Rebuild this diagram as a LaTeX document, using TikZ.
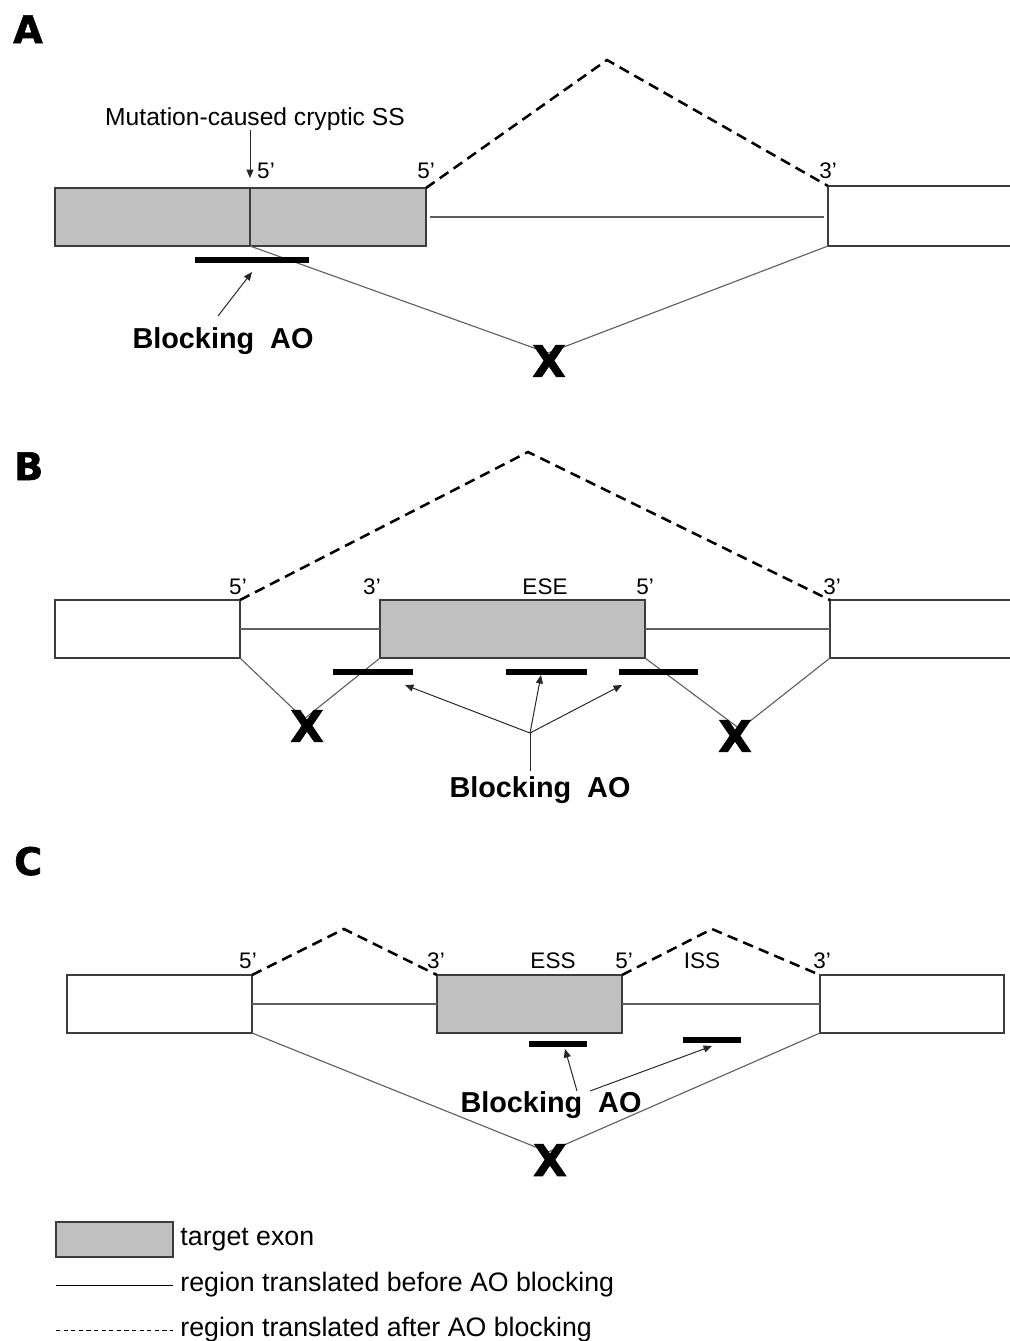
\documentclass[tikz,border=0pt]{standalone}
\usepackage{fontspec}
\setmainfont{Liberation Sans}
\newfontfamily\panelfont{DejaVu Sans}[BoldFeatures={FakeBold=1.6}]
\usepackage{tikz}
\usetikzlibrary{arrows.meta, positioning}
\definecolor{exongray}{RGB}{192,192,192}
\definecolor{edgegray}{RGB}{60,60,60}
\definecolor{intgray}{RGB}{95,95,95}
\tikzset{%
	boxsize/.style 2 args={
		minimum width=#1*0.025cm,
		minimum height=#2*0.025cm
	},
	exon/.style={
		draw=edgegray,
		line width=1pt,
		fill=exongray,
		inner sep=0pt,
		outer sep=0pt,
		anchor=north west
	},
	flank/.style={exon, fill=white},
	edge/.style={draw=edgegray, line width=1pt},
	intron/.style={draw=intgray, line width=0.8pt},
	after/.style={draw=black, line width=1.8pt, dash pattern=on 7.5pt off 4.5pt},
	aobar/.style={draw=black, line width=3.6pt},
	pointer/.style={draw=black!85, line width=0.7pt, -{Triangle[length=6pt,width=5pt]}},
	site/.style={font=\fontsize{16}{18}\selectfont, anchor=base, inner sep=0pt},
	note/.style={font=\fontsize{17.5}{20}\selectfont, anchor=base, inner sep=0pt},
	block/.style={font=\bfseries\fontsize{20.5}{24}\selectfont, anchor=base, inner sep=0pt},
	cross/.style={font=\panelfont\bfseries\fontsize{31}{36}\selectfont, inner sep=0pt},
	panel/.style={font=\panelfont\bfseries\fontsize{27}{30}\selectfont, anchor=base west, inner sep=0pt},
	legtext/.style={font=\fontsize{19}{22}\selectfont, anchor=west, inner sep=0pt},
}
\begin{document}
\begin{tikzpicture}[x=0.025cm, y=-0.025cm]
	\useasboundingbox (0,0) rectangle (1009,1341);
	
	% Panel A: mutation-caused cryptic splice site
	\node[panel] (labA) at (13,43) {A};
	\node[exon, boxsize={371}{58}] (exA) at (55,188) {};
	\node[flank, boxsize={200}{60}] (flA) at (828,186) {};
	\coordinate (cryA) at (250,188);
	\draw[edge] (cryA) -- (cryA |- exA.south);
	\draw[intron, shorten <=3pt, shorten >=3pt] (exA.east) -- (exA.east -| flA.west);
	\coordinate (pkA) at (607,60);
	\draw[after] (exA.north east) -- (pkA) -- (flA.north west);
	\coordinate (jxA) at (548,353);
	\draw[intron] (cryA |- exA.south) -- (jxA) -- (flA.south west);
	\node[cross] (xA) at (549,361) {X};
	\draw[aobar] (195,260) -- (309,260);
	
	% Labels for panel A
	\node[note] (mutA) at (255,125) {Mutation-caused cryptic SS};
	\coordinate (tipA) at (250,178);
	\draw[pointer] (cryA |- mutA.south) -- (tipA);
	\node[site] (s5A) at (266,178) {5'};
	\node[site] (t5A) at (426,178) {5'};
	\node[site] (t3A) at (828,178) {3'};
	\node[block] (blkA) at (223,348) {Blocking\ \ AO};
	\coordinate (pA1) at (218,316);
	\coordinate (pA2) at (252,272);
	\draw[pointer] (pA1) -- (pA2);
	
	
	
	% Panel B: exon skipping by blocking the splice sites and ESE
	\node[panel] (labB) at (14,480) {B};
	\node[flank, boxsize={185}{58}] (flB1) at (55,600) {};
	\node[exon, boxsize={265}{58}] (exB) at (380,600) {};
	\node[flank, boxsize={190}{58}] (flB2) at (830,600) {};
	\draw[intron] (flB1.east) -- (exB.west);
	\draw[intron] (exB.east) -- (flB2.west);
	\coordinate (pkB) at (528,452);
	\draw[after] (flB1.north east) -- (pkB) -- (flB2.north west);
	\coordinate (jxB1) at (304,719);
	\coordinate (jxB2) at (740,729);
	\draw[intron] (flB1.south east) -- (jxB1) -- (exB.south west);
	\draw[intron] (exB.south east) -- (jxB2) -- (flB2.south west);
	\node[cross] (xB1) at (307,726) {X};
	\node[cross] (xB2) at (735,736) {X};
	\draw[aobar] (333,672) -- (413,672);
	\draw[aobar] (506,672) -- (587,672);
	\draw[aobar] (619,672) -- (698,672);
	
	% Labels for panel B
	\node[site] (t5B1) at (238,594) {5'};
	\node[site] (t3B1) at (372,594) {3'};
	\node[site] (eseB) at (545,594) {ESE};
	\node[site] (t5B2) at (645,594) {5'};
	\node[site] (t3B2) at (832,594) {3'};
	\node[block] (blkB) at (540,797) {Blocking\ \ AO};
	\coordinate (jB) at (530,733);
	\coordinate (tailB) at (530,771);
	\coordinate (pB1) at (405,685);
	\coordinate (pB2) at (541,675);
	\coordinate (pB3) at (622,685);
	\draw[draw=black!85, line width=0.7pt] (tailB) -- (jB);
	\draw[pointer] (jB) -- (pB1);
	\draw[pointer] (jB) -- (pB2);
	\draw[pointer] (jB) -- (pB3);
	
	
	
	% Panel C: exon skipping by blocking the ESS and ISS
	\node[panel] (labC) at (14,875) {C};
	\node[flank, boxsize={185}{58}] (flC1) at (67,975) {};
	\node[exon, boxsize={185}{58}] (exC) at (437,975) {};
	\node[flank, boxsize={184}{58}] (flC2) at (820,975) {};
	\draw[intron] (flC1.east) -- (exC.west);
	\draw[intron] (exC.east) -- (flC2.west);
	\coordinate (pkC1) at (344,929);
	\coordinate (pkC2) at (712,929);
	\draw[after] (flC1.north east) -- (pkC1) -- (exC.north west);
	\draw[after] (exC.north east) -- (pkC2) -- (flC2.north west);
	\coordinate (jxC) at (548,1152);
	\draw[intron] (flC1.south east) -- (jxC) -- (flC2.south west);
	\node[cross] (xC) at (550,1160) {X};
	\draw[aobar] (529,1044) -- (587,1044);
	\draw[aobar] (683,1040) -- (741,1040);
	
	% Labels for panel C
	\node[site] (t5C1) at (248,968) {5'};
	\node[site] (t3C1) at (436,968) {3'};
	\node[site] (essC) at (553,968) {ESS};
	\node[site] (t5C2) at (624,968) {5'};
	\node[site] (issC) at (702,968) {ISS};
	\node[site] (t3C2) at (822,968) {3'};
	\node[block] (blkC) at (551,1112) {Blocking\ \ AO};
	\coordinate (pC1) at (577,1091);
	\coordinate (pC2) at (565,1049);
	\coordinate (pC3) at (590,1091);
	\coordinate (pC4) at (712,1046);
	\draw[pointer] (pC1) -- (pC2);
	\draw[pointer] (pC3) -- (pC4);
	
	
	
	% Legend
	\node[exon, boxsize={117}{35}] (legex) at (56,1222) {};
	\node[legtext, right=0.18cm of legex] (legexT) {target exon};
	\coordinate (lgS1) at (56,1285);
	\coordinate (lgS2) at (173,1285);
	\draw[draw=black, line width=0.7pt] (lgS1) -- (lgS2);
	\node[legtext, right=0.18cm of lgS2] (legS) {region translated before AO blocking};
	\coordinate (lgD1) at (56,1330);
	\coordinate (lgD2) at (173,1330);
	\draw[draw=black, line width=0.7pt, dash pattern=on 3pt off 2.4pt] (lgD1) -- (lgD2);
	\node[legtext, right=0.18cm of lgD2] (legD) {region translated after AO blocking};
	
\end{tikzpicture}
\end{document}
